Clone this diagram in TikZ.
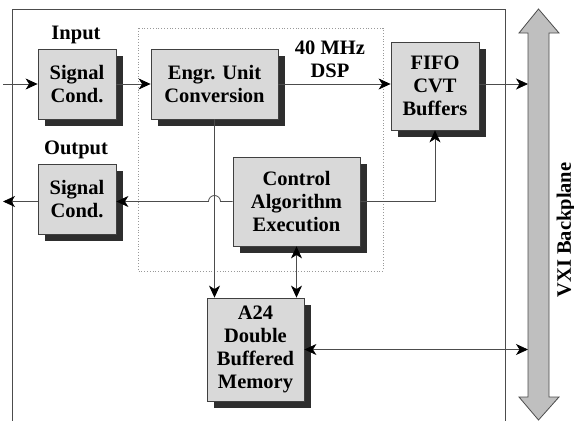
\documentclass[tikz,border=0pt]{standalone}
\usepackage{fontspec}
\setmainfont{Liberation Serif}
\usetikzlibrary{arrows.meta,shadows,calc}

\begin{document}
\begin{tikzpicture}[x=1pt,y=-1pt,
        font=\fontsize{20.5}{22.8}\selectfont\bfseries,
        >={Stealth[length=12pt,width=11pt,inset=3.5pt,black]},
        blk/.style={draw=black!75,line width=0.8pt,fill=black!15,align=center,
            inner sep=0pt,drop shadow={shadow xshift=7pt,shadow yshift=-7pt,fill=black!82,opacity=1}},
        wire/.style={line width=0.8pt,draw=black!70}]
        \useasboundingbox (0,0) rectangle (574,421);
        % frame and DSP area
        \draw[line width=0.8pt,black!70] (12,421) -- (12,9) -- (505,9) -- (505,421);
        \draw[dotted,line width=0.8pt,black!40] (138,28) rectangle (383,271);
        % backplane
        \draw[line width=0.8pt,black!70,fill=black!25] (538.5,9) -- (559,33) -- (549,33) -- (549,397) -- (559,397)
            -- (538.5,420) -- (519,397) -- (528,397) -- (528,33) -- (519,33) -- cycle;
        \coordinate (bpl) at (528,0);
        \node[rotate=90] (vxi) at (566,230) {VXI Backplane};
        % blocks
        \node[blk,minimum width=78,minimum height=70] (insig) at (77,84) {Signal\\Cond.};
        \node[blk,minimum width=127,minimum height=70] (engr) at (214.5,84) {Engr. Unit\\Conversion};
        \node[blk,minimum width=88,minimum height=88] (fifo) at (435,86) {FIFO\\CVT\\Buffers};
        \node[blk,minimum width=78,minimum height=70] (outsig) at (77,199) {Signal\\Cond.};
        \node[blk,minimum width=127,minimum height=89] (ctrl) at (296.5,201.5) {Control\\Algorithm\\Execution};
        \node[blk,minimum width=97,minimum height=103] (mem) at (255.5,349.5) {A24\\Double\\Buffered\\Memory};
        \node (inlbl) at (76,35) {Input};
        \node (outlbl) at (76,150) {Output};
        \node[align=center] (dsp) at (330,59) {40 MHz\\DSP};
        % connectors
        \coordinate (inbeg) at (3,84);
        \coordinate (outend) at (3,201.5);
        \draw[wire,->] (inbeg) -- (insig.west);
        \draw[wire,->] (insig.east) -- (engr.west);
        \draw[wire,->] (engr.east) -- (engr.east -| fifo.west);
        \draw[wire,->] (engr.east -| fifo.east) -- (engr.east -| bpl);
        \draw[wire,->] (engr.south) -- (engr.south |- mem.north);
        \draw[wire,->] (ctrl.west) -- ($(engr.south |- ctrl.west)+(6,0)$)
            arc[start angle=0,end angle=-180,radius=6] -- (ctrl.west -| outsig.east);
        \draw[wire,->] (outsig.west |- ctrl.west) -- (outend);
        \draw[wire,->] (ctrl.east) -| (fifo.south);
        \draw[wire,<->] (ctrl.south) -- (ctrl.south |- mem.north);
        \draw[wire,<->] (mem.east) -- (mem.east -| bpl);
    \end{tikzpicture}
\end{document}
